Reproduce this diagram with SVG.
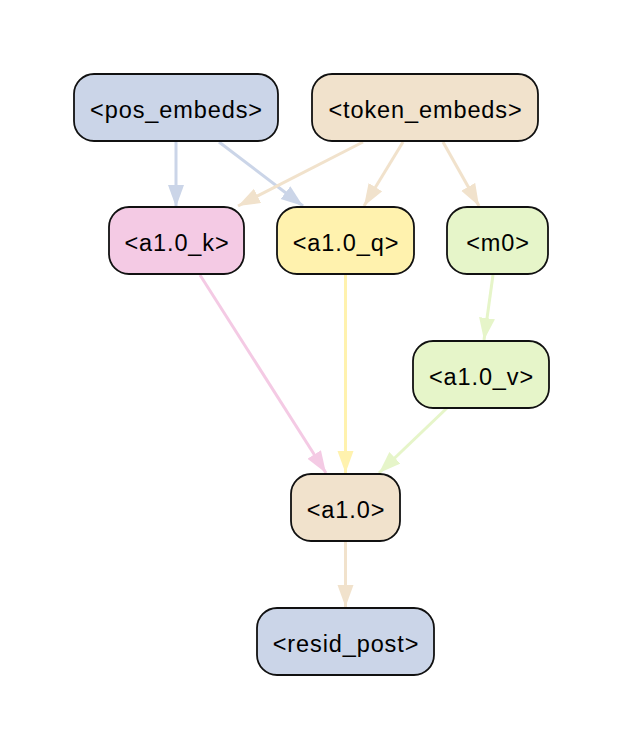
<svg xmlns="http://www.w3.org/2000/svg" width="623" height="749" viewBox="0 0 623 749">
<style>
.n rect{stroke:#111;stroke-width:1.8}
.n text{font-family:"Liberation Sans",Arial,Helvetica,sans-serif;font-size:23.5px;letter-spacing:0.9px;text-anchor:middle;fill:#000}
.e line{stroke-width:3;fill:none}
</style>
<defs>
<marker id="mb" markerUnits="userSpaceOnUse" markerWidth="24" markerHeight="18" refX="22" refY="8" orient="auto"><path d="M0,0L22,8L0,16z" fill="#cbd5e8"/></marker>
<marker id="mt" markerUnits="userSpaceOnUse" markerWidth="24" markerHeight="18" refX="22" refY="8" orient="auto"><path d="M0,0L22,8L0,16z" fill="#f1e2cc"/></marker>
<marker id="mp" markerUnits="userSpaceOnUse" markerWidth="24" markerHeight="18" refX="22" refY="8" orient="auto"><path d="M0,0L22,8L0,16z" fill="#f4cae4"/></marker>
<marker id="my" markerUnits="userSpaceOnUse" markerWidth="24" markerHeight="18" refX="22" refY="8" orient="auto"><path d="M0,0L22,8L0,16z" fill="#fff2ae"/></marker>
<marker id="mg" markerUnits="userSpaceOnUse" markerWidth="24" markerHeight="18" refX="22" refY="8" orient="auto"><path d="M0,0L22,8L0,16z" fill="#e6f5c9"/></marker>
</defs>
<rect width="623" height="749" fill="#fff"/>
<g id="edges" class="e">
<line x1="176" y1="142" x2="176" y2="207" stroke="#cbd5e8" marker-end="url(#mb)"/>
<line x1="219" y1="142" x2="303" y2="206" stroke="#cbd5e8" marker-end="url(#mb)"/>
<line x1="363" y1="142" x2="238" y2="206" stroke="#f1e2cc" marker-end="url(#mt)"/>
<line x1="403" y1="142" x2="364" y2="206" stroke="#f1e2cc" marker-end="url(#mt)"/>
<line x1="443" y1="142" x2="479" y2="206" stroke="#f1e2cc" marker-end="url(#mt)"/>
<line x1="200" y1="275" x2="326" y2="473" stroke="#f4cae4" marker-end="url(#mp)"/>
<line x1="345.5" y1="275" x2="345.5" y2="473" stroke="#fff2ae" marker-end="url(#my)"/>
<line x1="493" y1="275" x2="484" y2="340" stroke="#e6f5c9" marker-end="url(#mg)"/>
<line x1="447" y1="408" x2="379" y2="473" stroke="#e6f5c9" marker-end="url(#mg)"/>
<line x1="345.5" y1="542" x2="345.5" y2="607" stroke="#f1e2cc" marker-end="url(#mt)"/>
</g>
<g id="pos_embeds" class="n"><rect x="74" y="74" width="204" height="67" rx="20" fill="#cbd5e8"/><text x="176.5" y="117.5">&lt;pos_embeds&gt;</text></g>
<g id="token_embeds" class="n"><rect x="312" y="74" width="226" height="67" rx="20" fill="#f1e2cc"/><text x="425.5" y="117.5">&lt;token_embeds&gt;</text></g>
<g id="a1.0_k" class="n"><rect x="109" y="207" width="135" height="67" rx="20" fill="#f4cae4"/><text x="177" y="250.5">&lt;a1.0_k&gt;</text></g>
<g id="a1.0_q" class="n"><rect x="277" y="207" width="137" height="67" rx="20" fill="#fff2ae"/><text x="346" y="250.5">&lt;a1.0_q&gt;</text></g>
<g id="m0" class="n"><rect x="447" y="207" width="101" height="67" rx="20" fill="#e6f5c9"/><text x="498" y="250.5">&lt;m0&gt;</text></g>
<g id="a1.0_v" class="n"><rect x="413" y="341" width="136" height="67" rx="20" fill="#e6f5c9"/><text x="481.5" y="384.5">&lt;a1.0_v&gt;</text></g>
<g id="a1.0" class="n"><rect x="291" y="474" width="109" height="67" rx="20" fill="#f1e2cc"/><text x="346" y="518">&lt;a1.0&gt;</text></g>
<g id="resid_post" class="n"><rect x="257" y="608" width="177" height="67" rx="20" fill="#cbd5e8"/><text x="346" y="651.5">&lt;resid_post&gt;</text></g>
</svg>
